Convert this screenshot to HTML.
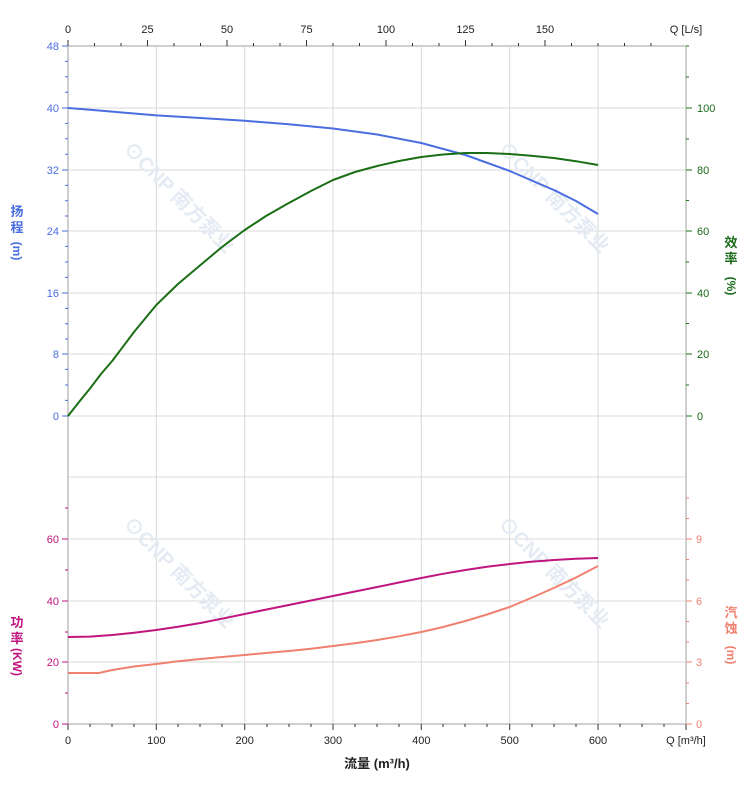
<!DOCTYPE html><html><head><meta charset="utf-8"><style>body{margin:0;background:#fff}svg{display:block;font-family:"Liberation Sans","Noto Sans CJK SC",sans-serif}</style></head><body>
<svg width="752" height="797" viewBox="0 0 752 797" xmlns="http://www.w3.org/2000/svg">
<g stroke="#d8d8d8" stroke-width="1">
<line x1="156.3" y1="46" x2="156.3" y2="724"/><line x1="244.7" y1="46" x2="244.7" y2="724"/><line x1="333" y1="46" x2="333" y2="724"/><line x1="421.3" y1="46" x2="421.3" y2="724"/><line x1="509.7" y1="46" x2="509.7" y2="724"/><line x1="598" y1="46" x2="598" y2="724"/>
<line x1="68" y1="108" x2="686" y2="108"/><line x1="68" y1="170" x2="686" y2="170"/><line x1="68" y1="231" x2="686" y2="231"/><line x1="68" y1="293" x2="686" y2="293"/><line x1="68" y1="354" x2="686" y2="354"/><line x1="68" y1="416" x2="686" y2="416"/>
<line x1="68" y1="477" x2="686" y2="477"/><line x1="68" y1="539" x2="686" y2="539"/><line x1="68" y1="601" x2="686" y2="601"/><line x1="68" y1="662" x2="686" y2="662"/>
</g>
<g stroke="#cfcfcf" stroke-width="2" fill="none"><line x1="68" y1="46" x2="686" y2="46"/><line x1="68" y1="724" x2="686" y2="724"/><line x1="68" y1="46" x2="68" y2="724"/><line x1="686" y1="46" x2="686" y2="724"/></g>
<g font-size="20" fill="#e4ebf3" font-weight="bold">
<text transform="translate(122,150) rotate(45)">⊙CNP 南方泵业</text>
<text transform="translate(497,150) rotate(45)">⊙CNP 南方泵业</text>
<text transform="translate(122,525) rotate(45)">⊙CNP 南方泵业</text>
<text transform="translate(497,525) rotate(45)">⊙CNP 南方泵业</text>
</g>
<g stroke="#333" stroke-width="1">
<path d="M68 46v-6M94.5 46v-3M121 46v-3M147.5 46v-6M174 46v-3M200.5 46v-3M227 46v-6M253.5 46v-3M280 46v-3M306.5 46v-6M333 46v-3M359.5 46v-3M386 46v-6M412.5 46v-3M439 46v-3M465.5 46v-6M492 46v-3M518.5 46v-3M545 46v-6M571.5 46v-3M598 46v-3M624.5 46v-3M651 46v-3"/>
<path d="M68 724v6M90 724v3M112 724v3M134 724v3M156.3 724v6M178 724v3M200 724v3M222 724v3M244.7 724v6M267 724v3M289 724v3M311 724v3M333 724v6M355 724v3M377 724v3M399 724v3M421.3 724v6M443 724v3M465 724v3M487 724v3M509.7 724v6M532 724v3M554 724v3M576 724v3M598 724v6M620 724v3M642 724v3M664 724v3M686 724v6"/>
</g>
<g stroke="#4a6ee0"><path d="M62 46h6M62 108h6M62 170h6M62 231h6M62 293h6M62 354h6M62 416h6M65 61.4h3M65 76.8h3M65 92.2h3M65 123.4h3M65 138.8h3M65 154.2h3M65 185.4h3M65 200.8h3M65 216h3M65 246.4h3M65 262h3M65 277.4h3M65 308.4h3M65 323.8h3M65 339h3M65 369.4h3M65 385h3M65 400.4h3"/></g>
<g stroke="#1a7a1a"><path d="M686 108h6M686 170h6M686 231h6M686 293h6M686 354h6M686 416h6M686 139h3M686 200.5h3M686 262h3M686 323.5h3M686 385h3M686 77h3M686 46h3"/></g>
<g stroke="#c0157f"><path d="M62 539h6M62 601h6M62 662h6M62 724h6M65 570h3M65 632h3M65 693h3M65 508h3"/></g>
<g stroke="#f08070"><path d="M686 539h6M686 601h6M686 662h6M686 724h6M686 559.5h3M686 580h3M686 621.5h3M686 642h3M686 683h3M686 703.5h3M686 518.5h3M686 498h3"/></g>
<g font-size="11" fill="#222" text-anchor="middle">
<text x="68" y="33">0</text><text x="147.5" y="33">25</text><text x="227" y="33">50</text><text x="306.5" y="33">75</text><text x="386" y="33">100</text><text x="465.5" y="33">125</text><text x="545" y="33">150</text><text x="686" y="33">Q [L/s]</text>
<text x="68" y="744">0</text><text x="156.3" y="744">100</text><text x="244.7" y="744">200</text><text x="333" y="744">300</text><text x="421.3" y="744">400</text><text x="509.7" y="744">500</text><text x="598" y="744">600</text><text x="686" y="744">Q [m³/h]</text>
</g>
<g font-size="11" fill="#4a6ee0" text-anchor="end"><text x="59" y="50">48</text><text x="59" y="112">40</text><text x="59" y="174">32</text><text x="59" y="235">24</text><text x="59" y="297">16</text><text x="59" y="358">8</text><text x="59" y="420">0</text></g>
<g font-size="11" fill="#c0157f" text-anchor="end"><text x="59" y="543">60</text><text x="59" y="605">40</text><text x="59" y="666">20</text><text x="59" y="728">0</text></g>
<g font-size="11" fill="#1a6a1a"><text x="697" y="112">100</text><text x="697" y="174">80</text><text x="697" y="235">60</text><text x="697" y="297">40</text><text x="697" y="358">20</text><text x="697" y="420">0</text></g>
<g font-size="11" fill="#f08070"><text x="696" y="543">9</text><text x="696" y="605">6</text><text x="696" y="666">3</text><text x="696" y="728">0</text></g>
<g font-size="13" font-weight="bold" text-anchor="middle">
<g fill="#4a6ee0"><text x="17" y="216">扬</text><text x="17" y="232">程</text><text transform="translate(13,251) rotate(90)" font-size="12">(m)</text></g>
<g fill="#c0157f"><text x="17" y="627">功</text><text x="17" y="643">率</text><text transform="translate(13,662) rotate(90)" font-size="12">(KW)</text></g>
<g fill="#1a6a1a"><text x="731" y="247">效</text><text x="731" y="263">率</text><text transform="translate(727,286) rotate(90)" font-size="12">(%)</text></g>
<g fill="#f08070"><text x="731" y="617">汽</text><text x="731" y="633">蚀</text><text transform="translate(727,655) rotate(90)" font-size="12">(m)</text></g>
<text x="377" y="768" fill="#222">流量 (m³/h)</text>
</g>
<g fill="none" stroke-width="2" stroke-linejoin="round">
<polyline stroke="#4a6ee0" points="68,108 90,109.8 112.2,111.6 134,113.5 156.3,115.4 200.5,118 244.7,120.8 288.8,124.3 333,128.5 377.2,134.5 421.3,143 465.5,155 509.7,171 553.8,190 576,201 598,214"/>
<polyline stroke="#1a6e14" points="68,416 79,402 90,388.5 101,374 112.2,361 134,332 156.3,305 178,284 200.5,265 222,247 244.7,230 266,216 288.8,203 311,191 333,180 355,172 377.2,166 399,161 421.3,157 443,154.5 465.5,153 487,153 509.7,154 531,155.8 553.8,158 576,161.2 598,165"/>
<polyline stroke="#c0157f" points="68,637 90,636.6 112.2,635 134,632.8 156.3,630 178,626.8 200.5,623 222,618.7 244.7,614 266,609.6 288.8,605 311,600.5 333,596 355,591.5 377.2,587 399,582.5 421.3,578 443,573.8 465.5,570 487,566.7 509.7,564 531,561.8 553.8,560 576,558.8 598,558"/>
<polyline stroke="#f08070" points="68,673 99,673 112.2,670 134,666.5 156.3,664 178,661.3 200.5,659 222,657 244.7,655 266,653 288.8,651 311,648.7 333,646 355,643.2 377.2,640 399,636.3 421.3,632 443,627 465.5,621 487,614.5 509.7,607 531,598 553.8,588 576,577.5 598,566"/>
</g>
</svg></body></html>
